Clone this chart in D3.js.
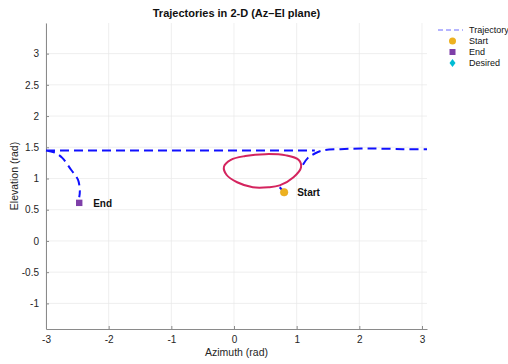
<!DOCTYPE html>
<html>
<head>
<meta charset="utf-8">
<script src="https://cdn.jsdelivr.net/npm/d3@7"></script>
<style>
  body { margin: 0; background: #fff; }
  text { font-family: "Liberation Sans", Arial, Helvetica, sans-serif; }
</style>
</head>
<body>
<script>
// tick values
let xTicks = [-3, -2, -1, 0, 1, 2, 3];
let yTicks = [-1, -0.5, 0, 0.5, 1, 1.5, 2, 2.5, 3];

// trajectory (dashed), null = break
let trajAz = [-3.0, 1.29, null,
              -3.0, -2.85, -2.74, -2.60, -2.49, -2.46, -2.47, null,
              0.80, 0.73, null,
              1.10, 1.18, 1.29, 1.42, 1.7, 2.2, 2.7, 3.08];
let trajEl = [1.45, 1.45, null,
              1.45, 1.41, 1.33, 1.14, 0.98, 0.80, 0.70, null,
              0.78, 0.86, null,
              1.22, 1.33, 1.40, 1.45, 1.47, 1.48, 1.47, 1.47];

// loop (solid crimson)
let loopAz = [0.73, 0.95, 1.07, 1.03, 0.83, 0.50, 0.18, -0.05, -0.16, -0.12, 0.05, 0.30, 0.55];
let loopEl = [0.89, 1.02, 1.18, 1.30, 1.37, 1.39, 1.36, 1.30, 1.19, 1.06, 0.94, 0.86, 0.86];

// markers
let startPt = [0.80, 0.78];
let endPt = [-2.47, 0.61];

let legendNames = ["Trajectory", "Start", "End", "Desired"];

let margin = {top: 23, right: 81, bottom: 35, left: 46},
    width = 508 - margin.left - margin.right,
    height = 364 - margin.top - margin.bottom;

let x = d3.scaleLinear().domain([-3.0, 3.08]).range([0, width]);
let y = d3.scaleLinear().domain([-1.41, 3.49]).range([height, 0]);

let svg = d3.select("body").append("svg")
    .attr("width", 508)
    .attr("height", 364);

let chart = svg.append("g")
    .attr("transform", "translate(" + margin.left + "," + margin.top + ")");

// grid
chart.append("g").selectAll("line").data(xTicks).enter().append("line")
    .attr("x1", d => x(d)).attr("x2", d => x(d))
    .attr("y1", 0).attr("y2", height)
    .attr("stroke", "#e8e8e8").attr("stroke-width", 0.7);
chart.append("g").selectAll("line").data(yTicks).enter().append("line")
    .attr("x1", 0).attr("x2", width)
    .attr("y1", d => y(d)).attr("y2", d => y(d))
    .attr("stroke", "#e8e8e8").attr("stroke-width", 0.7);

// axes
let fmt = d => String(d);
let xAxis = chart.append("g")
    .attr("transform", "translate(0," + height + ")")
    .call(d3.axisBottom(x).tickValues(xTicks).tickFormat(fmt).tickSizeInner(-3).tickSizeOuter(0).tickPadding(7));
let yAxis = chart.append("g")
    .call(d3.axisLeft(y).tickValues(yTicks).tickFormat(fmt).tickSizeInner(-3).tickSizeOuter(0).tickPadding(7));
[xAxis, yAxis].forEach(function(a) {
  a.select(".domain").attr("stroke", "#8a8a8a");
  a.selectAll(".tick line").attr("stroke", "#8a8a8a");
  a.selectAll(".tick text").attr("fill", "#262626").style("font-size", "10px")
    .style("font-family", "'Liberation Sans', Arial, sans-serif");
});

// trajectory
let idx = d3.range(trajAz.length);
let trajLine = d3.line()
    .defined(i => trajAz[i] !== null)
    .x(i => x(trajAz[i])).y(i => y(trajEl[i]))
    .curve(d3.curveCatmullRom);
chart.append("path")
    .attr("d", trajLine(idx))
    .attr("fill", "none")
    .attr("stroke", "#1010ff")
    .attr("stroke-width", 2)
    .attr("stroke-dasharray", "9,5");

// loop
let loopLine = d3.line()
    .x(i => x(loopAz[i])).y(i => y(loopEl[i]))
    .curve(d3.curveCatmullRomClosed);
chart.append("path")
    .attr("d", loopLine(d3.range(loopAz.length)))
    .attr("fill", "none")
    .attr("stroke", "#d4245e")
    .attr("stroke-width", 2);

// start / end
chart.append("circle")
    .attr("cx", x(startPt[0])).attr("cy", y(startPt[1])).attr("r", 3.8)
    .attr("fill", "#edb120").attr("stroke", "#e0a010").attr("stroke-width", 0.5);
chart.append("rect")
    .attr("x", x(endPt[0]) - 3.2).attr("y", y(endPt[1]) - 3.2)
    .attr("width", 6.4).attr("height", 6.4)
    .attr("fill", "#7e3fa8");

chart.append("text")
    .attr("x", x(startPt[0]) + 13).attr("y", y(startPt[1]) + 4)
    .style("font-size", "10px").style("font-weight", "bold").attr("fill", "#111")
    .text("Start");
chart.append("text")
    .attr("x", x(endPt[0]) + 14).attr("y", y(endPt[1]) + 4)
    .style("font-size", "10px").style("font-weight", "bold").attr("fill", "#111")
    .text("End");

// title & labels
svg.append("text")
    .attr("x", margin.left + width / 2).attr("y", 17)
    .attr("text-anchor", "middle")
    .style("font-size", "11px").style("font-weight", "bold").attr("fill", "#111")
    .text("Trajectories in 2-D (Az\u2013El plane)");
svg.append("text")
    .attr("x", margin.left + width / 2).attr("y", 356)
    .attr("text-anchor", "middle")
    .style("font-size", "10.5px").attr("fill", "#262626")
    .text("Azimuth (rad)");
svg.append("text")
    .attr("transform", "translate(18," + (margin.top + height / 2) + ") rotate(-90)")
    .attr("text-anchor", "middle")
    .style("font-size", "10.5px").attr("fill", "#262626")
    .text("Elevation (rad)");

// legend
let leg = svg.append("g").attr("transform", "translate(438,30)");
leg.append("line").attr("x1", 0).attr("x2", 25).attr("y1", 0).attr("y2", 0)
    .attr("stroke", "#6a6aff").attr("stroke-width", 1).attr("stroke-dasharray", "5,3");
leg.append("circle").attr("cx", 14.5).attr("cy", 11).attr("r", 3.5).attr("fill", "#edb120");
leg.append("rect").attr("x", 11.5).attr("y", 19).attr("width", 6).attr("height", 6).attr("fill", "#7e3fa8");
leg.append("path").attr("transform", "translate(14.5,33)")
    .attr("d", "M0,-4L3,0L0,4L-3,0Z").attr("fill", "#00bcd4");
leg.selectAll("text.lg").data(legendNames).enter().append("text")
    .attr("class", "lg")
    .attr("x", 31).attr("y", (d, i) => i * 11 + 3.3)
    .style("font-size", "9px").attr("fill", "#111")
    .text(d => d);
</script>
</body>
</html>
